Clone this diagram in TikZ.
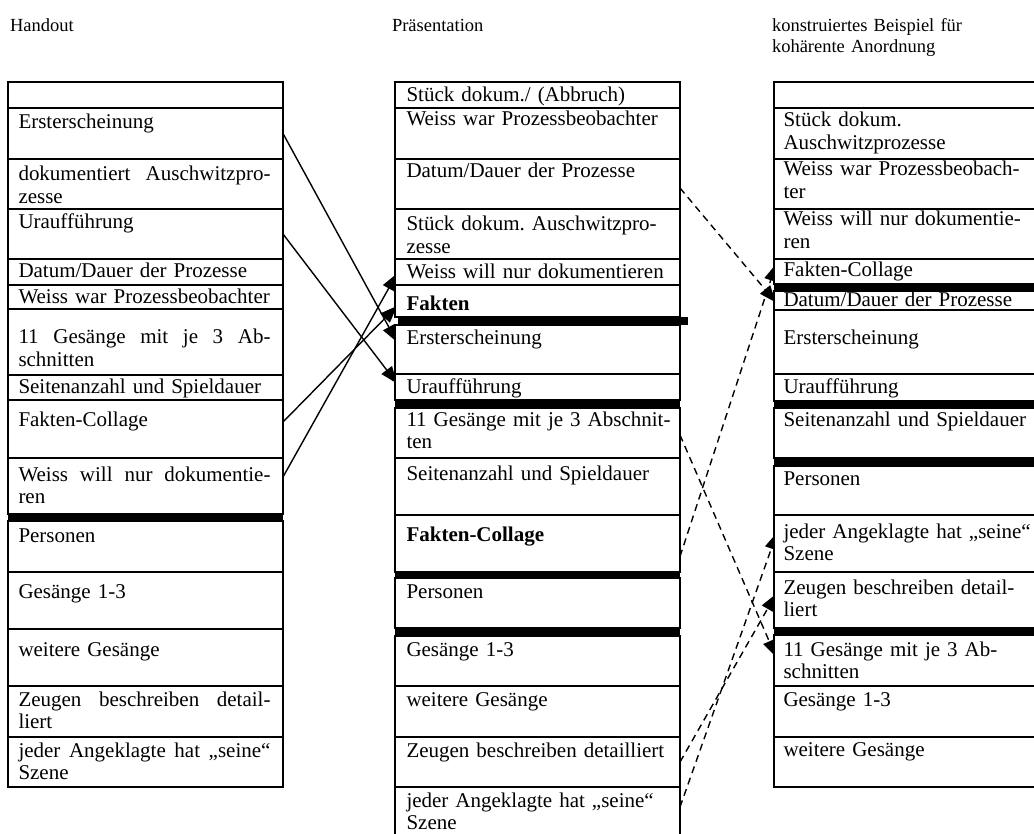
\documentclass[tikz,border=0pt]{standalone}
\usepackage{fontspec}
\setmainfont{Liberation Serif}
\usetikzlibrary{arrows.meta,calc,backgrounds}
\frenchspacing

% one table cell: name, left x, top y, bottom y, width
\newcommand\tcell[5]{\node[cell, minimum width=#5, minimum height=#4-#3] (#1) at (#2,#3) {};}
% first line of a cell stretched to the full text width of the Handout column
\newcommand\jline[1]{\hbox to 252pt{\spaceskip=0.25em plus 1fil\relax #1}\\}

\begin{document}
\begin{tikzpicture}[x=1pt,y=-1pt,
  cell/.style={draw, line width=1.6pt, fill=white, inner sep=0pt, outer sep=0pt, anchor=north west},
  txt/.style={inner sep=0pt, outer sep=0pt, anchor=base west, align=left,
              font=\fontsize{21}{22.5}\selectfont},
  ltxt/.style={txt, text width=252},
  mtxt/.style={txt, text width=266},
  rtxt/.style={txt, text width=258},
  head/.style={inner sep=0pt, outer sep=0pt, anchor=base west, align=left, text width=260,
              font=\fontsize{18.5}{21}\selectfont},
  bar/.style={fill=black},
  link/.style={line width=1.4pt, -{Triangle[length=17pt,width=13pt]}},
  dlink/.style={link, dash pattern=on 7pt off 5pt},
]
\path[use as bounding box] (0,0) rectangle (1034,834);
\clip (0,0) rectangle (1034,834);

% column headings
\node[head] (h1) at (10,32) {Handout};
\node[head] (h2) at (392,32) {Präsentation};
\node[head] (h3) at (772,32) {konstruiertes Beispiel für\\kohärente Anordnung};

% ---------------- Handout ----------------
\tcell{L0}{8}{82}{108}{275}
\tcell{L1}{8}{108}{159}{275}
\tcell{L2}{8}{159}{209}{275}
\tcell{L3}{8}{209}{259}{275}
\tcell{L4}{8}{259}{285}{275}
\tcell{L5}{8}{285}{309}{275}
\tcell{L6}{8}{309}{375}{275}
\tcell{L7}{8}{375}{400}{275}
\tcell{L8}{8}{400}{458}{275}
\tcell{L9}{8}{458}{514}{275}
\tcell{L10}{8}{521}{572}{275}
\tcell{L11}{8}{572}{629}{275}
\tcell{L12}{8}{629}{686}{275}
\tcell{L13}{8}{686}{737}{275}
\tcell{L14}{8}{737}{787}{275}
\fill[bar] (8,514) rectangle (283,521);

\node[ltxt] (L1t)  at ($(L1.north west)+(10.5,21)$) {Ersterscheinung};
\node[ltxt] (L2t)  at ($(L2.north west)+(10.5,22)$) {\jline{dokumentiert Auschwitzpro-}zesse};
\node[ltxt] (L3t)  at ($(L3.north west)+(10.5,20)$) {Uraufführung};
\node[ltxt] (L4t)  at ($(L4.north west)+(10.5,19)$) {Datum/Dauer der Prozesse};
\node[ltxt] (L5t)  at ($(L5.north west)+(10.5,19)$) {Weiss war Prozessbeobachter};
\node[ltxt] (L6t)  at ($(L6.north west)+(10.5,35)$) {\jline{11 Gesänge mit je 3 Ab-}schnitten};
\node[ltxt] (L7t)  at ($(L7.north west)+(10.5,19)$) {Seitenanzahl und Spieldauer};
\node[ltxt] (L8t)  at ($(L8.north west)+(10.5,26)$) {Fakten-Collage};
\node[ltxt] (L9t)  at ($(L9.north west)+(10.5,23)$) {\jline{Weiss will nur dokumentie-}ren};
\node[ltxt] (L10t) at ($(L10.north west)+(10.5,21)$) {Personen};
\node[ltxt] (L11t) at ($(L11.north west)+(10.5,26)$) {Gesänge 1-3};
\node[ltxt] (L12t) at ($(L12.north west)+(10.5,27)$) {weitere Gesänge};
\node[ltxt] (L13t) at ($(L13.north west)+(10.5,20)$) {\jline{Zeugen beschreiben detail-}liert};
\node[ltxt] (L14t) at ($(L14.north west)+(10.5,20)$) {\jline{jeder Angeklagte hat „seine“}Szene};

% ---------------- Präsentation ----------------
\tcell{M0}{395}{82}{108}{285}
\tcell{M1}{395}{108}{159}{285}
\tcell{M2}{395}{159}{209}{285}
\tcell{M3}{395}{209}{259}{285}
\tcell{M4}{395}{259}{285}{285}
\tcell{M5}{395}{285}{317}{285}
\tcell{M6}{395}{325}{374}{285}
\tcell{M7}{395}{374}{400}{285}
\tcell{M8}{395}{408}{458}{285}
\tcell{M9}{395}{458}{515}{285}
\tcell{M10}{395}{515}{572}{285}
\tcell{M11}{395}{578}{628}{285}
\tcell{M12}{395}{636}{686}{285}
\tcell{M13}{395}{686}{737}{285}
\tcell{M14}{395}{737}{787}{285}
\tcell{M15}{395}{787}{845}{285}
\fill[bar] (398,317) rectangle (688,325);
\fill[bar] (395,400) rectangle (680,408);
\fill[bar] (395,572) rectangle (680,578);
\fill[bar] (395,628) rectangle (680,636);

\node[mtxt] (M0t)  at ($(M0.north west)+(11.5,20)$) {Stück dokum./ (Abbruch)};
\node[mtxt] (M1t)  at ($(M1.north west)+(11.5,18)$) {Weiss war Prozessbeobachter};
\node[mtxt] (M2t)  at ($(M2.north west)+(11.5,19)$) {Datum/Dauer der Prozesse};
\node[mtxt] (M3t)  at ($(M3.north west)+(11.5,22)$) {Stück dokum. Auschwitzpro-\\zesse};
\node[mtxt] (M4t)  at ($(M4.north west)+(11.5,20)$) {Weiss will nur dokumentieren};
\node[mtxt] (M5t)  at ($(M5.north west)+(11.5,26)$) {\textbf{Fakten}};
\node[mtxt] (M6t)  at ($(M6.north west)+(11.5,20)$) {Ersterscheinung};
\node[mtxt] (M7t)  at ($(M7.north west)+(11.5,20)$) {Uraufführung};
\node[mtxt] (M8t)  at ($(M8.north west)+(11.5,18)$) {11 Gesänge mit je 3 Abschnit-\\ten};
\node[mtxt] (M9t)  at ($(M9.north west)+(11.5,22)$) {Seitenanzahl und Spieldauer};
\node[mtxt] (M10t) at ($(M10.north west)+(11.5,26)$) {\textbf{Fakten-Collage}};
\node[mtxt] (M11t) at ($(M11.north west)+(11.5,20)$) {Personen};
\node[mtxt] (M12t) at ($(M12.north west)+(11.5,20)$) {Gesänge 1-3};
\node[mtxt] (M13t) at ($(M13.north west)+(11.5,20)$) {weitere Gesänge};
\node[mtxt] (M14t) at ($(M14.north west)+(11.5,20)$) {Zeugen beschreiben detailliert};
\node[mtxt] (M15t) at ($(M15.north west)+(11.5,20)$) {jeder Angeklagte hat „seine“\\Szene};

% ---------------- konstruiertes Beispiel ----------------
\tcell{R0}{774}{82}{108}{275}
\tcell{R1}{774}{108}{159}{275}
\tcell{R2}{774}{159}{209}{275}
\tcell{R3}{774}{209}{259}{275}
\tcell{R4}{774}{259}{284}{275}
\tcell{R5}{774}{291}{310}{275}
\tcell{R6}{774}{310}{374}{275}
\tcell{R7}{774}{374}{401}{275}
\tcell{R8}{774}{408}{458}{275}
\tcell{R9}{774}{466}{515}{275}
\tcell{R10}{774}{515}{572}{275}
\tcell{R11}{774}{572}{628}{275}
\tcell{R12}{774}{635}{686}{275}
\tcell{R13}{774}{686}{737}{275}
\tcell{R14}{774}{737}{787}{275}
\fill[bar] (774,284) rectangle (1049,291);
\fill[bar] (774,401) rectangle (1049,408);
\fill[bar] (774,458) rectangle (1049,466);
\fill[bar] (774,628) rectangle (1049,635);

\node[rtxt] (R1t)  at ($(R1.north west)+(9.5,19)$) {Stück dokum.\\Auschwitzprozesse};
\node[rtxt] (R2t)  at ($(R2.north west)+(9.5,17)$) {Weiss war Prozessbeobach-\\ter};
\node[rtxt] (R3t)  at ($(R3.north west)+(9.5,17)$) {Weiss will nur dokumentie-\\ren};
\node[rtxt] (R4t)  at ($(R4.north west)+(9.5,18)$) {Fakten-Collage};
\node[rtxt] (R5t)  at ($(R5.north west)+(9.5,16)$) {Datum/Dauer der Prozesse};
\node[rtxt] (R6t)  at ($(R6.north west)+(9.5,35)$) {Ersterscheinung};
\node[rtxt] (R7t)  at ($(R7.north west)+(9.5,20)$) {Uraufführung};
\node[rtxt] (R8t)  at ($(R8.north west)+(9.5,18)$) {Seitenanzahl und Spieldauer};
\node[rtxt] (R9t)  at ($(R9.north west)+(9.5,19)$) {Personen};
\node[rtxt] (R10t) at ($(R10.north west)+(9.5,23)$) {jeder Angeklagte hat „seine“\\Szene};
\node[rtxt] (R11t) at ($(R11.north west)+(9.5,22)$) {Zeugen beschreiben detail-\\liert};
\node[rtxt] (R12t) at ($(R12.north west)+(9.5,21)$) {11 Gesänge mit je 3 Ab-\\schnitten};
\node[rtxt] (R13t) at ($(R13.north west)+(9.5,20)$) {Gesänge 1-3};
\node[rtxt] (R14t) at ($(R14.north west)+(9.5,19)$) {weitere Gesänge};

% connectors run beneath the tables, so the tips tuck under the cell edges
\begin{pgfonlayer}{background}
\fill[white] (0,0) rectangle (1034,834);
% Handout -> Präsentation
\draw[link] (L1.east) -- ($(M6.west)+(2,-7.5)$);
\draw[link] (L3.east) -- ($(M7.west)+(2,-3.5)$);
\draw[link] ($(L8.east)+(0,-7)$) -- ($(M5.west)+(2,5)$);
\draw[link] ($(L9.east)+(0,-9)$) -- ($(M4.west)+(2,1.5)$);
% Präsentation -> konstruiertes Beispiel
\draw[dlink] ($(M2.east)+(0,4)$) -- ($(R5.west)+(2,2)$);
\draw[dlink] ($(M10.east)+(0,13)$) -- ($(R4.west)+(2,-7.5)$);
\draw[dlink] ($(M8.east)+(0,2)$) -- ($(R12.west)+(2,-3.5)$);
\draw[dlink] (M14.east) -- ($(R11.west)+(2,-6)$);
\draw[dlink] ($(M15.east)+(0,-9)$) -- ($(R10.west)+(3,-11)$);
\end{pgfonlayer}
\end{tikzpicture}
\end{document}
